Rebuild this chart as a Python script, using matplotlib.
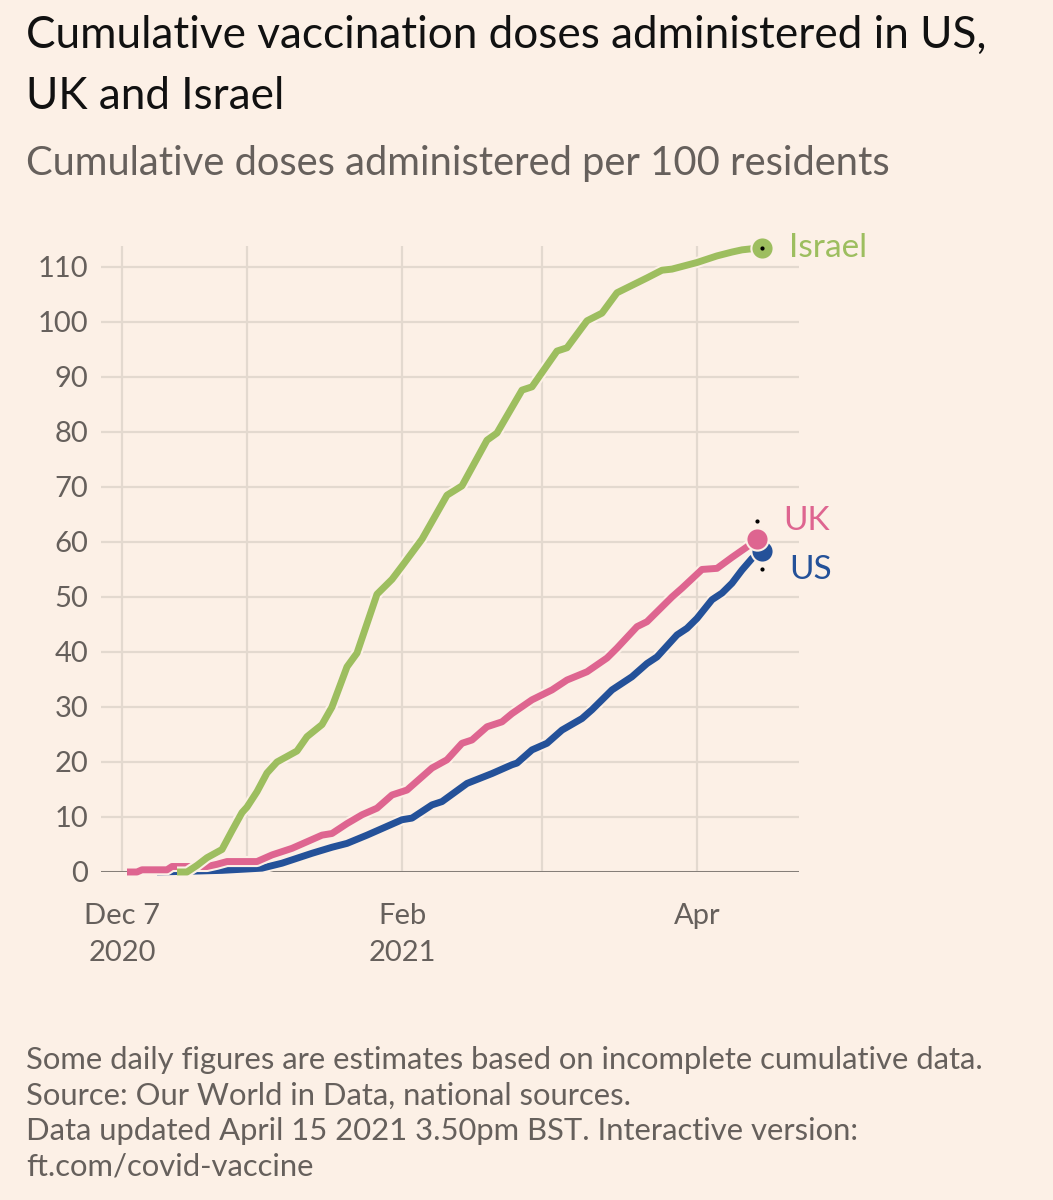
import matplotlib
matplotlib.use("Agg")
import matplotlib.pyplot as plt
import matplotlib.patheffects as pe
import matplotlib.transforms as mtransforms
import pandas as pd

# --- datos (dosis acumuladas por 100 residentes) ---
israel_dates = ["2020-12-18", "2020-12-20", "2020-12-22", "2020-12-24", "2020-12-27",
                "2020-12-29", "2020-12-31", "2021-01-01", "2021-01-03", "2021-01-05",
                "2021-01-07", "2021-01-11", "2021-01-13", "2021-01-16", "2021-01-18",
                "2021-01-21", "2021-01-23", "2021-01-27", "2021-01-30", "2021-02-01",
                "2021-02-05", "2021-02-10", "2021-02-13", "2021-02-18", "2021-02-20",
                "2021-02-25", "2021-02-27", "2021-03-04", "2021-03-06", "2021-03-10",
                "2021-03-13", "2021-03-16", "2021-03-22", "2021-03-25", "2021-03-27",
                "2021-04-01", "2021-04-05", "2021-04-08", "2021-04-10", "2021-04-14"]
israel_values = [0.0, 0.0, 1.2, 2.6, 4.1, 7.5, 10.8, 11.8, 14.6, 18.0,
                 20.0, 22.0, 24.6, 26.8, 30.0, 37.3, 39.8, 50.5, 53.2, 55.6,
                 60.5, 68.5, 70.2, 78.5, 79.8, 87.6, 88.2, 94.7, 95.3, 100.2,
                 101.6, 105.3, 108.0, 109.4, 109.6, 110.8, 112.0, 112.7, 113.1, 113.5]

uk_dates = ["2020-12-08", "2020-12-10", "2020-12-11", "2020-12-16", "2020-12-17",
            "2020-12-24", "2020-12-26", "2020-12-28", "2021-01-03", "2021-01-06",
            "2021-01-10", "2021-01-13", "2021-01-16", "2021-01-18", "2021-01-21",
            "2021-01-24", "2021-01-27", "2021-01-30", "2021-02-02", "2021-02-05",
            "2021-02-07", "2021-02-10", "2021-02-13", "2021-02-15", "2021-02-18",
            "2021-02-21", "2021-02-23", "2021-02-27", "2021-03-03", "2021-03-06",
            "2021-03-10", "2021-03-14", "2021-03-16", "2021-03-20", "2021-03-22",
            "2021-03-27", "2021-03-29", "2021-04-02", "2021-04-05", "2021-04-08",
            "2021-04-11", "2021-04-13"]
uk_values = [0.0, 0.0, 0.4, 0.4, 1.0, 1.0, 1.4, 1.9, 1.9, 3.1,
             4.3, 5.5, 6.7, 7.0, 8.8, 10.4, 11.6, 14.0, 14.9, 17.3,
             18.9, 20.4, 23.4, 24.0, 26.4, 27.3, 28.8, 31.3, 33.1, 34.9,
             36.4, 38.9, 40.7, 44.6, 45.5, 50.0, 51.6, 55.0, 55.2, 57.2,
             59.1, 60.5]

us_dates = ["2020-12-14", "2020-12-23", "2020-12-27", "2021-01-04", "2021-01-08",
            "2021-01-11", "2021-01-14", "2021-01-18", "2021-01-21", "2021-01-25",
            "2021-01-28", "2021-02-01", "2021-02-03", "2021-02-07", "2021-02-09",
            "2021-02-14", "2021-02-19", "2021-02-23", "2021-02-24", "2021-02-27",
            "2021-03-02", "2021-03-05", "2021-03-09", "2021-03-11", "2021-03-14",
            "2021-03-15", "2021-03-19", "2021-03-22", "2021-03-24", "2021-03-28",
            "2021-03-30", "2021-04-01", "2021-04-04", "2021-04-06", "2021-04-08",
            "2021-04-10", "2021-04-12", "2021-04-14"]
us_values = [0.0, 0.2, 0.3, 0.7, 1.6, 2.5, 3.4, 4.5, 5.2, 6.7,
             7.9, 9.5, 9.8, 12.2, 12.8, 16.1, 17.9, 19.5, 19.8, 22.2,
             23.4, 25.8, 27.9, 29.5, 32.2, 33.1, 35.5, 37.9, 39.1, 43.1,
             44.3, 46.1, 49.5, 50.7, 52.5, 54.9, 57.0, 58.4]

tick_dates = ["2020-12-07", "2021-01-01", "2021-02-01", "2021-03-01", "2021-04-01"]
tick_labels = ["Dec 7\n2020", "", "Feb\n2021", "", "Apr"]
y_ticks = [0, 10, 20, 30, 40, 50, 60, 70, 80, 90, 100, 110]

# colores
bg = "#fcf0e6"
grey = "#66605c"
grid_col = "#e3d9cf"
colores = {"US": "#245199", "UK": "#de6590", "Israel": "#9dbe5f"}

plt.rcParams["font.family"] = ["Lato", "DejaVu Sans"]

fig = plt.figure(figsize=(10.53, 12), dpi=100, facecolor=bg)
W, H = 1053, 1200
ax = fig.add_axes([101 / W, 1 - 872 / H, 698 / W, 626 / H], facecolor=bg)

x0 = pd.Timestamp("2020-12-07")
ax.set_xlim(x0 - pd.Timedelta(days=4.2), x0 + pd.Timedelta(days=135.4))
ax.set_ylim(0, 113.8)

for s in ax.spines.values():
    s.set_visible(False)

ax.set_yticks(y_ticks)
ax.set_xticks(pd.to_datetime(tick_dates))
ax.set_xticklabels(tick_labels, linespacing=1.55)
ax.tick_params(axis="both", length=0, colors=grey, labelsize=21)
ax.tick_params(axis="y", pad=9)
ax.tick_params(axis="x", pad=22)
for lab in ax.get_yticklabels():
    lab.set_horizontalalignment("right")
ax.grid(True, color=grid_col, linewidth=1.6)
ax.set_axisbelow(True)
ax.axhline(0, color=grey, linewidth=1.8, zorder=1)

series = [("US", us_dates, us_values), ("UK", uk_dates, uk_values),
          ("Israel", israel_dates, israel_values)]
label_offsets = {"Israel": (19.4, 0), "UK": (19.2, 13.2), "US": (19.7, -13.9)}
dot_offsets = {"Israel": 0, "UK": 13.4, "US": -13.4}

outline = [pe.Stroke(linewidth=8, foreground=bg), pe.Normal()]
for nombre, fechas, valores in series:
    fechas = pd.to_datetime(fechas)
    c = colores[nombre]
    ax.plot(fechas, valores, color=c, linewidth=5, solid_capstyle="butt",
            solid_joinstyle="round", path_effects=outline, zorder=3, clip_on=False)

# puntos finales y etiquetas
for nombre, fechas, valores in series:
    fechas = pd.to_datetime(fechas)
    c = colores[nombre]
    ax.plot(fechas[-1:], valores[-1:], "o", color=c, markersize=16,
            markeredgecolor=bg, markeredgewidth=1.5, zorder=4, clip_on=False)
    tr = mtransforms.offset_copy(ax.transData, fig=fig, x=0, y=dot_offsets[nombre], units="points")
    ax.plot(fechas[-1:], valores[-1:], "o", color="black", markersize=2,
            transform=tr, zorder=5, clip_on=False)
    dx, dy = label_offsets[nombre]
    ax.annotate(nombre, xy=(fechas[-1], valores[-1]), xytext=(dx, dy),
                textcoords="offset points", color=c, fontsize=24,
                ha="left", va="center")

# títulos
fig.text(26 / W, 1 - 48 / H, "Cumulative vaccination doses administered in US,",
         fontsize=31.8, color="#111111", ha="left", va="baseline")
fig.text(26 / W, 1 - 109 / H, "UK and Israel",
         fontsize=31.8, color="#111111", ha="left", va="baseline")
fig.text(26 / W, 1 - 175 / H, "Cumulative doses administered per 100 residents",
         fontsize=28.7, color=grey, ha="left", va="baseline")

# notas al pie
notas = ["Some daily figures are estimates based on incomplete cumulative data.",
         "Source: Our World in Data, national sources.",
         "Data updated April 15 2021 3.50pm BST. Interactive version:",
         "ft.com/covid-vaccine"]
for i, linea in enumerate(notas):
    fig.text(26 / W, 1 - (1069 + 35.5 * i) / H, linea, fontsize=22.3, color=grey,
             ha="left", va="baseline")

plt.savefig("out.png", dpi=100, facecolor=bg)
